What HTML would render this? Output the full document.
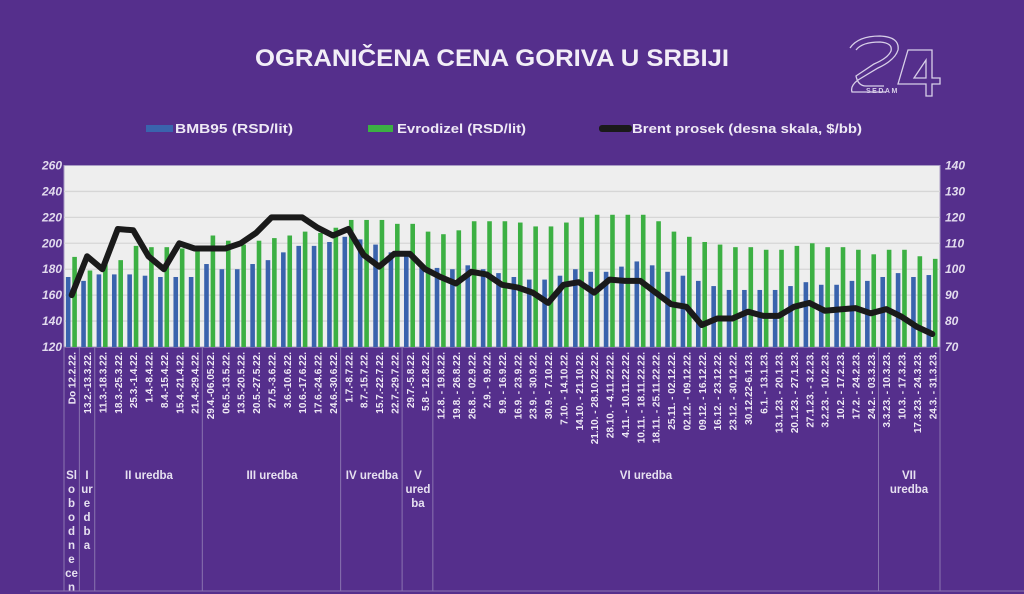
<!DOCTYPE html>
<html><head><meta charset="utf-8"><style>
html,body{margin:0;padding:0;background:#552f8c;}
svg{display:block;font-family:"Liberation Sans",sans-serif;}
</style></head><body>
<svg id="s" width="1024" height="594" viewBox="0 0 1024 594" xmlns="http://www.w3.org/2000/svg">
<rect width="1024" height="594" fill="#552f8c"/>
<text x="492" y="66" fill="#f2eef7" font-size="24" font-weight="bold" text-anchor="middle" textLength="474" lengthAdjust="spacingAndGlyphs">OGRANIČENA CENA GORIVA U SRBIJI</text>
<!-- logo -->
<g fill="none" stroke="#d8cfe8" stroke-width="1.3">
<path d="M850 48 Q858 36 880 36 Q900 37 898 50 Q895 60 878 68 L858 80 Q850 86 852 92 L886 92"/>
<path d="M856 50 Q862 42 880 42 Q893 43 891 51 Q888 58 874 64 L856 76 Q858 86 866 86 L884 86"/>
<path d="M908 50 L932 50 L932 78 L940 78 L940 84 L932 84 L932 96 L926 96 L926 84 L898 84 Z"/>
<path d="M914 78 L926 60 L926 78 Z"/>
</g>
<text x="866" y="93" fill="#d8cfe8" font-size="7" font-weight="bold" letter-spacing="1.5">SEDAM</text>
<!-- legend -->
<rect x="146" y="125" width="27" height="7" fill="#3a63ad"/>
<text x="175" y="133" fill="#eee9f5" font-size="12.5" font-weight="bold" textLength="118" lengthAdjust="spacingAndGlyphs">BMB95 (RSD/lit)</text>
<rect x="368" y="125" width="25" height="7" fill="#3cb043"/>
<text x="397" y="133" fill="#eee9f5" font-size="12.5" font-weight="bold" textLength="129" lengthAdjust="spacingAndGlyphs">Evrodizel (RSD/lit)</text>
<rect x="599" y="125" width="33" height="7" rx="3" fill="#1a1a1a"/>
<text x="632" y="133" fill="#eee9f5" font-size="12.5" font-weight="bold" textLength="230" lengthAdjust="spacingAndGlyphs">Brent prosek  (desna skala, $/bb)</text>
<!-- plot -->
<rect x="64" y="165.5" width="876" height="181.5" fill="#eeeeee" stroke="#a99cc4" stroke-width="1"/>
<g id="grid" stroke="#d6d6d6" stroke-width="1.3"></g>
<g id="bars"></g>
<polyline id="brent" fill="none" stroke="#1a1a1a" stroke-width="6" stroke-linejoin="round" stroke-linecap="round"/>
<g id="yl" fill="#e2dbee" font-size="12" font-weight="bold" font-style="italic"></g>
<g id="xl" fill="#eee9f5" font-size="10" font-weight="bold"></g>
<g id="sep" stroke="#8a74b0" stroke-width="1"></g>
<g fill="#e6e0f0" font-size="11.5" font-weight="bold" text-anchor="middle">
<text x="71.5" y="479">Sl</text><text x="71.5" y="493">o</text><text x="71.5" y="507">b</text><text x="71.5" y="521">o</text><text x="71.5" y="535">d</text><text x="71.5" y="549">n</text><text x="71.5" y="563">e</text><text x="71.5" y="577">ce</text><text x="71.5" y="591">n</text>
<text x="87" y="479">I</text><text x="87" y="493">ur</text><text x="87" y="507">e</text><text x="87" y="521">d</text><text x="87" y="535">b</text><text x="87" y="549">a</text>
<text x="149" y="479">II uredba</text>
<text x="272" y="479">III uredba</text>
<text x="372" y="479">IV uredba</text>
<text x="418" y="479">V</text><text x="418" y="493">ured</text><text x="418" y="507">ba</text>
<text x="646" y="479">VI uredba</text>
<text x="909" y="479">VII</text><text x="909" y="493">uredba</text>
</g>
<line x1="30" y1="591" x2="1024" y2="591" stroke="#8a74b0"/>
</svg>
<script>
var NS="http://www.w3.org/2000/svg";
function el(t,a,p,txt){var e=document.createElementNS(NS,t);for(var k in a)e.setAttribute(k,a[k]);if(txt!=null)e.textContent=txt;document.getElementById(p).appendChild(e);return e;}
var L=64,W=876,B=347,T=165.5,n=57,cw=W/n;
function yl(v){return B-(v-120)*(B-T)/140;}
function yr(v){return B-(v-70)*(B-T)/70;}
for(var i=1;i<7;i++){var y=yl(120+20*i);el("line",{x1:L,y1:y,x2:L+W,y2:y},"grid");}
for(var i=0;i<=7;i++){el("text",{x:62,y:yl(120+20*i)+4,"text-anchor":"end"},"yl",String(120+20*i));el("text",{x:945,y:yr(70+10*i)+4},"yl",String(70+10*i));}
var blue=[174,171,176,176,176,175,174,174,174,184,180,180,184,187,193,198,198,201,205,203,199,193,193,181,181,180,183,180,177,174,172,172,175,180,178,178,182,186,183,178,175,171,167,164,164,164,164,167,170,168,168,171,171,174,177,174,175.5];
var green=[189.5,179,188,187,198,197,197,196,196,206,202,199,202,204,206,209,208,212,218,218,218,215,215,209,207,210,217,217,217,216,213,213,216,220,222,222,222,222,217,209,205,201,199,197,197,195,195,198,200,197,197,195,191.5,195,195,190,188];
var br=[90,105,100,115.5,115,105,100,110,108,108,108,110,114,120,120,120,116,113,115.5,105.5,101,106,106,100,97,94.5,99,98,94,93,91,87,94,95,91,96,95.5,95.5,91,86.5,85.5,78.5,81,81,83.6,82,82,85.5,87,84,84.5,85,83,84.6,81.7,77.8,75];
var pts=[];
for(var i=0;i<n;i++){var c=L+(i+0.5)*cw;
el("rect",{x:c-5.8,y:yl(blue[i]),width:4.6,height:B-yl(blue[i]),fill:"#3a63ad"},"bars");
el("rect",{x:c+0.6,y:yl(green[i]),width:4.6,height:B-yl(green[i]),fill:"#3cb043"},"bars");
pts.push(c.toFixed(1)+","+yr(br[i]).toFixed(1));}
document.getElementById("brent").setAttribute("points",pts.join(" "));
var lab=["Do 12.2.22.","13.2.-13.3.22.","11.3.-18.3.22.","18.3.-25.3.22.","25.3.-1.4.22.","1.4.-8.4.22.","8.4.-15.4.22.","15.4.-21.4.22.","21.4.-29.4.22.","29.4.-06.05.22.","06.5.-13.5.22.","13.5.-20.5.22.","20.5.-27.5.22.","27.5.-3.6.22.","3.6.-10.6.22.","10.6.-17.6.22.","17.6.-24.6.22.","24.6.-30.6.22.","1.7.-8.7.22.","8.7.-15.7.22.","15.7.-22.7.22.","22.7.-29.7.22.","29.7.-5.8.22.","5.8 - 12.8.22.","12.8. - 19.8.22.","19.8. - 26.8.22.","26.8. - 02.9.22.","2.9. - 9.9.22.","9.9. - 16.9.22.","16.9. - 23.9.22.","23.9. - 30.9.22.","30.9. - 7.10.22.","7.10. - 14.10.22.","14.10. - 21.10.22.","21.10. - 28.10.22.22.","28.10. - 4.11.22.22.","4.11. - 10.11.22.22.","10.11. - 18.11.22.22.","18.11. - 25.11.22.22.","25.11. - 02.12.22.","02.12. - 09.12.22.","09.12. - 16.12.22.","16.12. - 23.12.22.","23.12. - 30.12.22.","30.12.22-6.1.23.","6.1. - 13.1.23.","13.1.23. - 20.1.23.","20.1.23. - 27.1.23.","27.1.23. - 3.2.23.","3.2.23. - 10.2.23.","10.2. - 17.2.23.","17.2. - 24.2.23.","24.2. - 03.3.23.","3.3.23. - 10.3.23.","10.3. - 17.3.23.","17.3.23. - 24.3.23.","24.3. - 31.3.23."];
for(var i=0;i<n;i++){var c=L+(i+0.5)*cw+4;el("text",{x:0,y:0,"text-anchor":"end",transform:"translate("+c.toFixed(1)+",352) rotate(-90)"},"xl",lab[i]);}
[0,1,2,9,18,22,24,53,57].forEach(function(k){var x=L+k*cw;el("line",{x1:x,y1:347,x2:x,y2:591},"sep");});
</script>
</body></html>
